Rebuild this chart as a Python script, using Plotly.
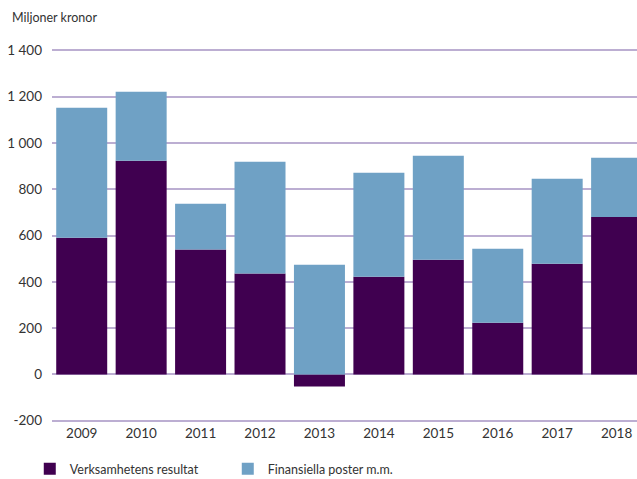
import plotly.graph_objects as go

years = ["2009", "2010", "2011", "2012", "2013", "2014", "2015", "2016", "2017", "2018"]
verksamhet = [590, 923, 539, 436, -52, 422, 495, 223, 478, 680]
finansiella = [562, 298, 198, 483, 474, 449, 450, 320, 367, 256]
ytick_vals = [-200, 0, 200, 400, 600, 800, 1000, 1200, 1400]
ytick_text = ["-200", "0", "200", "400", "600", "800", "1 000", "1 200", "1 400"]

font = "Lato, Open Sans, sans-serif"
grid = "#bcaed2"

fig = go.Figure()
fig.add_trace(go.Bar(x=years, y=verksamhet, name="Verksamhetens resultat",
                     marker=dict(color="#400050", line=dict(width=0)), width=0.858))
fig.add_trace(go.Bar(x=years, y=finansiella, name="Finansiella poster m.m.",
                     marker=dict(color="#6fa1c5", line=dict(width=0)), width=0.858))

plot_h = 479 - 48 - 56
fig.update_layout(
    width=637, height=479,
    barmode="relative",
    paper_bgcolor="white", plot_bgcolor="white",
    margin=dict(l=52, r=0, t=48, b=56, autoexpand=False),
    font=dict(family=font, size=13, color="#333333"),
    xaxis=dict(type="category", range=[-0.5, 9.343], showgrid=False, showline=False,
               ticks="", automargin=False, tickfont=dict(size=13.5, color="#333333")),
    yaxis=dict(range=[-210, 1410], tickvals=ytick_vals, ticktext=ytick_text,
               showgrid=True, gridcolor=grid, gridwidth=1.5,
               zeroline=True, zerolinecolor=grid, zerolinewidth=1.5,
               showline=False, ticks="", ticklabelstandoff=9, automargin=False,
               tickfont=dict(size=13.5, color="#333333")),
    legend=dict(orientation="h", x=-0.038, xanchor="left", y=-31 / plot_h, yanchor="top",
                font=dict(size=12.5, color="#333333"), entrywidth=153, entrywidthmode="pixels",
                traceorder="normal"),
    annotations=[dict(text="Miljoner kronor", xref="paper", yref="paper", x=-0.0718,
                      y=1 + 30 / plot_h,
                      xanchor="left", yanchor="middle", showarrow=False,
                      font=dict(size=12.5, color="#333333"))],
    showlegend=True,
)

fig.write_html("out.html", config={"displayModeBar": False},
               post_script="document.body.style.margin='0';document.body.style.padding='0';")
